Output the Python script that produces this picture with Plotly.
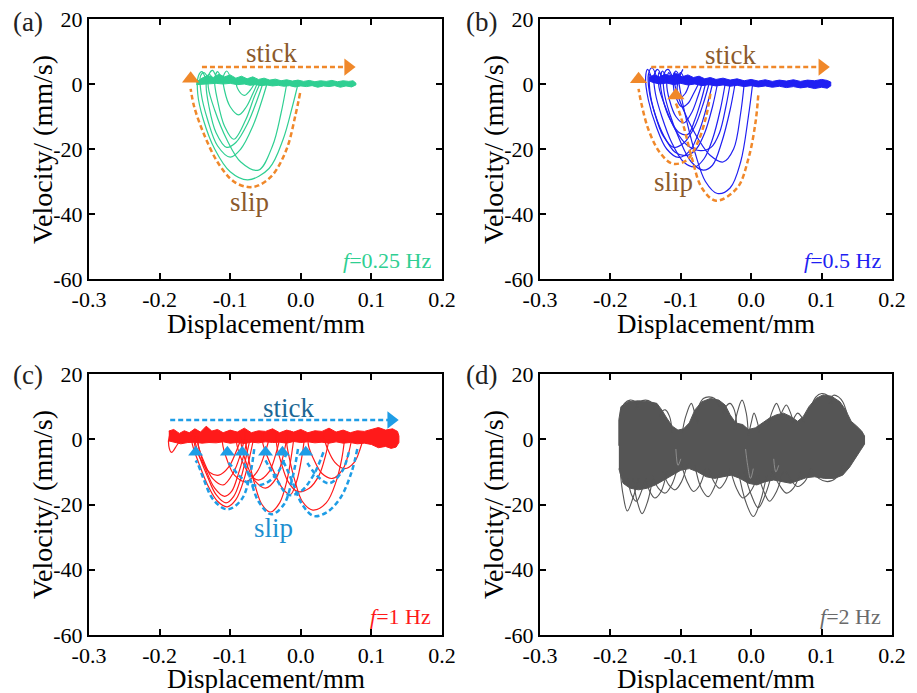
import plotly.graph_objects as go

FONT = "Liberation Serif, Times New Roman, serif"

# ---------------- axis ticks ----------------
x_ticks = [-0.3, -0.2, -0.1, 0.0, 0.1, 0.2]
x_tick_text = ["-0.3", "-0.2", "-0.1", "0.0", "0.1", "0.2"]
y_ticks = [-60, -40, -20, 0, 20]
y_tick_text = ["-60", "-40", "-20", "0", "20"]

panel_labels = ["(a)", "(b)", "(c)", "(d)"]
freq_labels = ["<i>f</i>=0.25 Hz", "<i>f</i>=0.5 Hz", "<i>f</i>=1 Hz", "<i>f</i>=2 Hz"]
freq_colors = ["#2fcf92", "#1f1ff2", "#ff1a1a", "#6a6a6a"]

# ---------------- panel (a) f=0.25 Hz ----------------
a1_x = [-0.004, -0.012, -0.025, -0.045, -0.075, -0.100, -0.122, -0.138, -0.146, -0.145, -0.140, -0.134, -0.128]
a1_v = [0, -7, -17, -26, -29.5, -27, -20, -11, -3, 2.5, 3.8, 1.5, 0.5]
a2_x = [-0.020, -0.028, -0.040, -0.060, -0.085, -0.105, -0.122, -0.131, -0.130, -0.125, -0.119, -0.112]
a2_v = [0, -9, -19, -26.5, -24, -17, -8, -1, 3, 4.2, 2, 0.8]
a3_x = [-0.048, -0.055, -0.068, -0.085, -0.100, -0.118, -0.132, -0.141, -0.142, -0.137, -0.130]
a3_v = [0, -5, -13, -20, -22.5, -19, -11, -3, 2.5, 3.5, 1]
a4_x = [-0.054, -0.062, -0.075, -0.092, -0.105, -0.120, -0.130, -0.134, -0.130, -0.124]
a4_v = [0, -5, -12, -18, -19.5, -15, -7, 0, 3, 1.5]
a5_x = [-0.058, -0.066, -0.078, -0.095, -0.108, -0.118, -0.122, -0.118, -0.112]
a5_v = [0, -4, -11, -17, -13, -5, 1, 3.8, 1.5]
a6_x = [-0.062, -0.068, -0.077, -0.088, -0.100, -0.108, -0.110, -0.105, -0.098]
a6_v = [0, -3, -7, -9.5, -7, -2, 2, 4, 1]
a7_x = [-0.066, -0.072, -0.080, -0.088, -0.091, -0.087, -0.080]
a7_v = [0, -2, -3.5, -2, 0.5, 1.5, 0.5]
band_a_top_x = [-0.148, -0.140, -0.132, -0.124, -0.116, -0.108, -0.100, -0.092, -0.084, -0.076, -0.068,
                -0.060, -0.052, -0.044, -0.036, -0.028, -0.020, -0.012, -0.004, 0.004, 0.012, 0.020, 0.028,
                0.036, 0.044, 0.052, 0.060, 0.068, 0.074, 0.078]
band_a_top_v = [0.6, 1.8, 2.6, 2.0, 3.0, 2.2, 2.8, 1.8, 2.4, 1.6, 2.2, 1.4, 1.8, 1.2, 1.5, 1.0, 1.3, 0.9, 1.2,
                0.8, 1.1, 0.7, 1.0, 0.8, 1.1, 0.7, 1.0, 0.8, 1.0, 0.3]
band_a_bot_x = [0.078, 0.072, 0.064, 0.056, 0.048, 0.040, 0.032, 0.024, 0.016, 0.008, 0.000, -0.008, -0.016,
                -0.024, -0.032, -0.040, -0.048, -0.056, -0.064, -0.072, -0.080, -0.090, -0.100, -0.110, -0.120,
                -0.130, -0.140, -0.148]
band_a_bot_v = [-0.3, -0.9, -0.6, -1.0, -0.5, -0.8, -0.6, -1.0, -0.5, -0.8, -0.6, -0.9, -0.5, -0.7, -0.4,
                -0.6, -0.3, -0.5, -0.2, -0.4, 0.0, -0.2, 0.2, 0.0, 0.2, 0.0, -0.2, -0.2]
slip_a_x = [-0.001, -0.008, -0.020, -0.040, -0.060, -0.075, -0.095, -0.118, -0.138, -0.151, -0.156]
slip_a_v = [-2.8, -10, -20, -28, -31.2, -31.7, -30, -24, -15, -7, -1.5]

# ---------------- panel (b) f=0.5 Hz ----------------
b1_x = [0.002, -0.004, -0.015, -0.030, -0.048, -0.065, -0.080, -0.092, -0.100, -0.103, -0.100, -0.094]
b1_v = [0, -10, -24, -32, -33.7, -30, -21, -11, -3, 2, 3.5, 1]
b2_x = [-0.010, -0.015, -0.025, -0.040, -0.058, -0.075, -0.092, -0.105, -0.110, -0.107, -0.100]
b2_v = [0, -9, -20, -24, -22, -17, -10, -3, 2, 4, 1.5]
b3_x = [-0.023, -0.030, -0.042, -0.055, -0.068, -0.085, -0.102, -0.116, -0.124, -0.124, -0.118, -0.111]
b3_v = [0, -8, -18, -25, -26.5, -24, -17, -9, -2, 3, 4.5, 1.5]
b4_x = [-0.037, -0.044, -0.055, -0.067, -0.080, -0.096, -0.113, -0.127, -0.136, -0.138, -0.133, -0.126]
b4_v = [0, -8, -17, -23, -25.5, -24, -18, -10, -3, 2.5, 4.5, 1.5]
b5_x = [-0.048, -0.055, -0.066, -0.078, -0.092, -0.108, -0.124, -0.137, -0.145, -0.146, -0.141, -0.134]
b5_v = [0, -7, -15, -20, -22, -21, -16, -9, -2, 3, 5, 2]
b6_x = [-0.055, -0.062, -0.073, -0.087, -0.103, -0.120, -0.135, -0.146, -0.150, -0.147, -0.141]
b6_v = [0, -6, -14, -20.5, -22.6, -20, -13, -5, 2, 4.5, 1.5]
b7_x = [-0.060, -0.068, -0.080, -0.095, -0.110, -0.125, -0.137, -0.144, -0.144, -0.139]
b7_v = [0, -6, -13, -18, -19.5, -16, -9, -2, 3, 1]
b8_x = [-0.065, -0.071, -0.080, -0.090, -0.102, -0.115, -0.125, -0.129, -0.126, -0.120]
b8_v = [0, -5, -11, -15.5, -15, -11, -5, 1, 4, 1.5]
b9_x = [-0.070, -0.076, -0.085, -0.096, -0.107, -0.116, -0.120, -0.117, -0.112]
b9_v = [0, -4, -9, -12, -10, -5, 0, 3.5, 1]
b10_x = [-0.075, -0.082, -0.090, -0.099, -0.107, -0.111, -0.109, -0.104]
b10_v = [0, -3, -6, -7, -4, 0.5, 3.5, 1]
b11_x = [-0.088, -0.094, -0.100, -0.105, -0.103, -0.097]
b11_v = [0, -3, -4, -2, 1.5, 4.5]
b12_x = [-0.030, -0.036, -0.045, -0.057, -0.072, -0.090, -0.108, -0.122, -0.131, -0.131, -0.126]
b12_v = [0, -7, -15, -19.5, -20.5, -19, -14, -7, -1, 3.5, 1.5]
band_b_top_x = [-0.145, -0.138, -0.130, -0.122, -0.114, -0.106, -0.098, -0.090, -0.082, -0.074, -0.066, -0.058,
                -0.050, -0.040, -0.030, -0.020, -0.010, 0.000, 0.010, 0.020, 0.030, 0.040, 0.050, 0.060, 0.070,
                0.080, 0.090, 0.100, 0.108, 0.113]
band_b_top_v = [2.0, 2.8, 2.2, 3.0, 2.4, 3.2, 2.2, 2.8, 2.0, 2.4, 1.6, 2.0, 1.4, 1.8, 1.2, 1.6, 1.0, 1.4, 0.9,
                1.3, 0.8, 1.2, 0.9, 1.3, 0.8, 1.2, 1.0, 1.4, 1.1, 0.6]
band_b_bot_x = [0.113, 0.108, 0.100, 0.090, 0.080, 0.070, 0.060, 0.050, 0.040, 0.030, 0.020, 0.010, 0.000,
                -0.010, -0.020, -0.030, -0.040, -0.050, -0.060, -0.070, -0.080, -0.090, -0.100, -0.110, -0.120,
                -0.130, -0.140, -0.145]
band_b_bot_v = [-0.6, -1.3, -1.0, -1.4, -0.9, -1.2, -0.8, -1.1, -0.7, -1.0, -0.6, -0.9, -0.5, -0.8, -0.4, -0.7,
                -0.3, -0.6, -0.2, -0.5, 0.0, -0.3, 0.2, -0.2, 0.3, 0.0, 0.5, 1.0]
slip_b1_x = [-0.058, -0.064, -0.076, -0.092, -0.112, -0.130, -0.146, -0.156, -0.160]
slip_b1_v = [-3, -10, -18, -23.5, -24.5, -21, -14, -6, -1.5]
slip_b2_x = [0.010, 0.006, -0.004, -0.020, -0.050, -0.070, -0.084, -0.096, -0.104, -0.107]
slip_b2_v = [-3.5, -12, -23, -32, -35.9, -32, -23, -13, -7.5, -6]

# ---------------- panel (c) f=1 Hz ----------------
c1_x = [-0.067, -0.072, -0.080, -0.092, -0.104, -0.118, -0.132, -0.145, -0.153, -0.155, -0.150]
c1_v = [0, -5, -12, -18.5, -20.7, -19, -14, -7, -2, 1, 2]
c2_x = [-0.072, -0.077, -0.085, -0.095, -0.106, -0.120, -0.133, -0.144, -0.150, -0.148]
c2_v = [0, -5, -12, -17.5, -19.5, -17, -11, -5, 0, 2]
c3_x = [-0.076, -0.081, -0.089, -0.098, -0.108, -0.122, -0.135, -0.144, -0.148]
c3_v = [0, -5, -11, -16, -17.5, -15, -9, -3, 1]
c4_x = [-0.080, -0.086, -0.095, -0.110, -0.125, -0.137, -0.145, -0.146]
c4_v = [0, -5, -10, -14, -12, -7, -2, 1]
c5_x = [-0.085, -0.092, -0.102, -0.116, -0.130, -0.142, -0.150, -0.152]
c5_v = [0, -4, -8.5, -11, -10, -6, -2, 1]
c6_x = [-0.170, -0.176, -0.183, -0.187, -0.186, -0.181]
c6_v = [0, -2, -4, -2, 1, 2.5]
c7_x = [-0.010, -0.014, -0.020, -0.030, -0.043, -0.055, -0.065, -0.073, -0.078, -0.079, -0.076]
c7_v = [0, -6, -13, -19.5, -22.3, -20, -14, -7, -1, 2, 2.5]
c8_x = [-0.020, -0.026, -0.035, -0.050, -0.064, -0.076, -0.084, -0.086]
c8_v = [0, -6, -12, -15, -13, -8, -2, 1.5]
c9_x = [0.005, 0.001, -0.006, -0.015, -0.026, -0.038, -0.048, -0.054, -0.054]
c9_v = [0, -6, -13, -17, -15, -10, -5, -1, 2]
c10_x = [-0.030, -0.036, -0.045, -0.060, -0.075, -0.086, -0.091, -0.090]
c10_v = [0, -5, -10, -12.5, -10, -5, -1, 2]
c11_x = [0.062, 0.058, 0.050, 0.036, 0.017, 0.002, -0.008, -0.016, -0.020, -0.019, -0.014]
c11_v = [0, -6, -13, -19.5, -21.7, -19, -13, -6, -1, 2, 2.5]
c12_x = [0.072, 0.068, 0.060, 0.045, 0.030, 0.018, 0.011, 0.010]
c12_v = [0, -4, -9, -12, -10.5, -6, -2, 1.5]
c13_x = [0.040, 0.035, 0.026, 0.012, -0.005, -0.018, -0.028, -0.034, -0.035]
c13_v = [0, -5, -11, -15, -16, -13, -7, -2, 2]
c14_x = [0.088, 0.084, 0.076, 0.062, 0.048, 0.038, 0.032]
c14_v = [0, -3, -7, -9, -7, -3, 1]
c15_x = [-0.045, -0.052, -0.062, -0.078, -0.094, -0.105, -0.111, -0.110]
c15_v = [0, -5, -10, -13, -11, -6, -1, 2]
band_c_top_x = [-0.187, -0.180, -0.172, -0.165, -0.158, -0.150, -0.142, -0.134, -0.126, -0.118, -0.110,
                -0.100, -0.090, -0.080, -0.070, -0.060, -0.050, -0.040, -0.030, -0.020, -0.010, 0.000, 0.010,
                0.020, 0.030, 0.040, 0.050, 0.060, 0.070, 0.080, 0.090, 0.100, 0.110, 0.120, 0.130, 0.137, 0.139]
band_c_top_v = [2.5, 3.0, 1.8, 2.6, 2.0, 3.2, 2.2, 4.0, 2.5, 3.0, 2.0, 2.8, 2.2, 3.4, 2.0, 2.6, 2.4, 3.2, 2.0,
                2.8, 2.2, 3.0, 2.0, 2.6, 2.4, 3.4, 2.2, 2.8, 2.0, 2.6, 2.4, 3.0, 3.6, 2.8, 3.2, 2.4, 1.0]
band_c_bot_x = [0.139, 0.135, 0.128, 0.120, 0.110, 0.100, 0.090, 0.080, 0.070, 0.060, 0.050, 0.040, 0.030,
                0.020, 0.010, 0.000, -0.010, -0.020, -0.030, -0.040, -0.050, -0.060, -0.070, -0.080, -0.090,
                -0.100, -0.110, -0.120, -0.130, -0.140, -0.150, -0.160, -0.170, -0.180, -0.187]
band_c_bot_v = [-1.0, -2.4, -2.8, -2.2, -2.6, -1.6, -1.2, -1.4, -1.0, -1.2, -0.8, -1.2, -0.9, -1.1, -0.8, -1.0,
                -0.7, -1.2, -0.9, -1.0, -0.8, -1.1, -0.9, -1.3, -1.0, -1.2, -0.8, -1.1, -1.0, -1.2, -0.9, -1.0,
                -1.4, -1.0, -0.5]
slip_c1_x = [-0.066, -0.072, -0.084, -0.104, -0.124, -0.138, -0.146, -0.149]
slip_c1_v = [-3, -11, -18.5, -21.5, -18.5, -12, -7.5, -6.5]
slip_c2_x = [-0.004, -0.012, -0.024, -0.042, -0.060, -0.072, -0.080, -0.083]
slip_c2_v = [-3, -12, -20, -23, -19, -12, -7.5, -6.5]
slip_c3_x = [0.080, 0.072, 0.056, 0.036, 0.018, 0.002, -0.012, -0.022, -0.026]
slip_c3_v = [-3, -10, -18, -22.5, -23.5, -20, -13, -8, -6.5]
slip_c4_x = [-0.020, -0.032, -0.050, -0.070, -0.088, -0.099, -0.103, -0.104]
slip_c4_v = [-4, -10, -13.5, -14, -11, -8, -7, -6.5]
slip_c5_x = [0.068, 0.058, 0.040, 0.022, 0.010, 0.007]
slip_c5_v = [-4, -10, -13.5, -11, -7.5, -6.5]
slip_c6_x = [0.032, 0.018, 0.000, -0.018, -0.035, -0.046, -0.050]
slip_c6_v = [-4, -11, -16, -17, -12, -8, -6.5]
arrow_c_x = [-0.149, -0.104, -0.083, -0.050, -0.026, 0.007]
arrow_c_v = [-4, -4, -4, -4, -4, -4]

# ---------------- panel (d) f=2 Hz ----------------
env_d_top_x = [-0.188, -0.188, -0.185, -0.175, -0.160, -0.145, -0.134, -0.127, -0.120, -0.112, -0.104, -0.096,
               -0.088, -0.080, -0.070, -0.058, -0.046, -0.037, -0.030, -0.022, -0.012, -0.004, 0.006, 0.016,
               0.026, 0.036, 0.046, 0.056, 0.066, 0.074, 0.082, 0.092, 0.102, 0.114, 0.126, 0.134, 0.142, 0.150,
               0.157, 0.161]
env_d_top_v = [-2, 6, 10, 11.5, 11.8, 11.5, 11, 9, 6.5, 4, 2.8, 3.2, 5, 9, 11.5, 12.5, 12, 10.5, 7.5, 5, 4.5,
               3, 3.5, 5, 6.5, 7.5, 8, 7, 5.5, 7, 10, 12.5, 13.6, 13.2, 11.5, 9, 5.5, 4, 2.5, 1]
env_d_bot_x = [0.161, 0.155, 0.148, 0.140, 0.130, 0.118, 0.104, 0.090, 0.078, 0.068, 0.056, 0.044, 0.032,
               0.020, 0.008, -0.004, -0.016, -0.028, -0.040, -0.052, -0.064, -0.076, -0.088, -0.100, -0.112,
               -0.124, -0.136, -0.148, -0.160, -0.172, -0.182, -0.188]
env_d_bot_v = [-1.5, -3.5, -6, -8.5, -11, -12, -12, -11.5, -11.8, -12.5, -13.5, -13, -12.5, -13, -14, -13.5,
               -12, -11, -11.5, -12, -11.5, -10, -9, -9.5, -11, -12.5, -14, -15, -15.5, -15, -13.5, -9]
# loops hanging below the dense core
d_low_x = [[-0.186, -0.182, -0.176, -0.168, -0.160], [-0.175, -0.170, -0.163, -0.156, -0.150],
           [-0.168, -0.162, -0.155, -0.147, -0.140], [-0.150, -0.144, -0.137, -0.128, -0.120],
           [-0.140, -0.132, -0.122, -0.113, -0.105], [-0.125, -0.117, -0.108, -0.099, -0.090],
           [-0.100, -0.091, -0.082, -0.073, -0.065], [-0.080, -0.071, -0.061, -0.053, -0.045],
           [-0.060, -0.053, -0.045, -0.037, -0.030], [-0.030, -0.021, -0.012, -0.001, 0.010],
           [-0.018, -0.008, 0.003, 0.013, 0.022], [-0.010, 0.000, 0.010, 0.020, 0.030],
           [0.010, 0.018, 0.026, 0.036, 0.045], [0.030, 0.040, 0.050, 0.060, 0.070],
           [0.050, 0.058, 0.066, 0.076, 0.085], [0.085, 0.096, 0.108, 0.120, 0.130]]
d_low_v = [[-10, -17, -22, -18, -12], [-12, -17, -19, -16, -12], [-12, -19, -22.8, -19, -12],
           [-12, -16, -18, -16, -10], [-11, -15, -16.5, -14, -9], [-10, -14, -15.5, -13, -7],
           [-7, -13, -16, -14, -9], [-8, -15, -17.6, -15, -10], [-9, -13, -15, -13, -9],
           [-9, -15, -18, -16, -11], [-10, -19, -23.7, -19, -11], [-10, -17, -21, -17, -10],
           [-11, -16, -19, -16, -10], [-10, -14, -16.5, -15, -10], [-10, -13, -14.5, -13, -9],
           [-9, -12, -13, -12, -8]]
# bubbles above the dense core
d_up_x = [[-0.098, -0.093, -0.085, -0.079, -0.075], [-0.024, -0.020, -0.013, -0.007, -0.004],
          [-0.004, 0.000, 0.004, 0.009, 0.012], [0.024, 0.029, 0.036, 0.042, 0.046],
          [0.040, 0.045, 0.050, 0.056, 0.060], [0.058, 0.062, 0.066, 0.071, 0.075],
          [-0.130, -0.127, -0.122, -0.116, -0.112], [-0.040, -0.036, -0.030, -0.024, -0.020],
          [-0.186, -0.180, -0.172, -0.165, -0.160], [-0.165, -0.158, -0.150, -0.143, -0.137],
          [0.085, 0.092, 0.100, 0.108, 0.115], [0.110, 0.117, 0.124, 0.130, 0.136],
          [-0.075, -0.068, -0.060, -0.052, -0.045]]
d_up_v = [[2, 7, 11, 7, 5], [3, 8, 12, 8, 1], [1, 5, 8, 5, 2], [4, 8, 11, 8, 6],
          [6, 9, 10.5, 8, 5], [5, 7, 8, 7, 5], [7, 8.5, 9, 7, 2], [8, 10, 11, 9, 3],
          [8, 11, 12, 11.5, 9], [9, 11.5, 12, 11.5, 9], [10, 13, 14, 13.5, 11],
          [11, 13.5, 13, 11.5, 8], [10, 12.5, 13, 12.5, 10]]
# thin light gaps seen inside the dense core
d_gap_x = [[-0.008, -0.005, -0.001, 0.003], [-0.107, -0.104, -0.100], [0.032, 0.035, 0.039]]
d_gap_v = [[-3, -8, -12, -9], [-3, -8, -6], [-6, -10, -8]]

# ---------------- colours ----------------
GREEN = "#2fcf92"
BLUE = "#1f1ff2"
RED = "#ff1a1a"
GRAY = "#555555"
ORANGE = "#f0882a"
SKY = "#1e9de6"
BROWN = "#8b5a2b"

fig = go.Figure()


def add_line(ax, x, v, color, width=1.2, dash=None, shape="spline", fill=None):
    fig.add_trace(go.Scatter(
        x=x, y=v, mode="lines", xaxis="x" + ax, yaxis="y" + ax,
        line=dict(color=color, width=width, dash=dash, shape=shape, smoothing=1.0),
        fill=fill, fillcolor=color if fill else None,
        hoverinfo="skip", showlegend=False))


def add_marker(ax, x, v, color, symbol, size):
    fig.add_trace(go.Scatter(
        x=x, y=v, mode="markers", xaxis="x" + ax, yaxis="y" + ax,
        marker=dict(color=color, symbol=symbol, size=size, line=dict(width=0)),
        hoverinfo="skip", showlegend=False))


# panel a
add_line("", band_a_top_x + band_a_bot_x, band_a_top_v + band_a_bot_v, GREEN, 1.0, shape="linear", fill="toself")
for lx, lv in [(a1_x, a1_v), (a2_x, a2_v), (a3_x, a3_v), (a4_x, a4_v), (a5_x, a5_v), (a6_x, a6_v), (a7_x, a7_v)]:
    add_line("", lx, lv, GREEN)
add_line("", slip_a_x, slip_a_v, ORANGE, 2.5, dash="5px,3px")
add_line("", [-0.140, 0.064], [5.2, 5.2], ORANGE, 2.5, dash="5px,3px", shape="linear")
add_marker("", [0.067], [5.2], ORANGE, "triangle-right", 15)
add_marker("", [-0.156], [1.6], ORANGE, "triangle-up", 15)

# panel b
add_line("2", band_b_top_x + band_b_bot_x, band_b_top_v + band_b_bot_v, BLUE, 1.0, shape="linear", fill="toself")
for lx, lv in [(b1_x, b1_v), (b2_x, b2_v), (b3_x, b3_v), (b4_x, b4_v), (b5_x, b5_v), (b6_x, b6_v),
               (b7_x, b7_v), (b8_x, b8_v), (b9_x, b9_v), (b10_x, b10_v), (b11_x, b11_v), (b12_x, b12_v)]:
    add_line("2", lx, lv, BLUE)
add_line("2", slip_b1_x, slip_b1_v, ORANGE, 2.5, dash="5px,3px")
add_line("2", slip_b2_x, slip_b2_v, ORANGE, 2.5, dash="5px,3px")
add_line("2", [-0.142, 0.098], [5.2, 5.2], ORANGE, 2.5, dash="5px,3px", shape="linear")
add_marker("2", [0.101], [5.2], ORANGE, "triangle-right", 15)
add_marker("2", [-0.160, -0.107], [1.5, -3.5], ORANGE, "triangle-up", 15)

# panel c
add_line("3", band_c_top_x + band_c_bot_x, band_c_top_v + band_c_bot_v, RED, 1.0, shape="linear", fill="toself")
for lx, lv in [(c1_x, c1_v), (c2_x, c2_v), (c3_x, c3_v), (c4_x, c4_v), (c5_x, c5_v), (c6_x, c6_v),
               (c7_x, c7_v), (c8_x, c8_v), (c9_x, c9_v), (c10_x, c10_v), (c11_x, c11_v), (c12_x, c12_v),
               (c13_x, c13_v), (c14_x, c14_v), (c15_x, c15_v)]:
    add_line("3", lx, lv, RED)
for lx, lv in [(slip_c1_x, slip_c1_v), (slip_c2_x, slip_c2_v), (slip_c3_x, slip_c3_v),
               (slip_c4_x, slip_c4_v), (slip_c5_x, slip_c5_v), (slip_c6_x, slip_c6_v)]:
    add_line("3", lx, lv, SKY, 2.5, dash="5px,3px")
add_line("3", [-0.185, 0.124], [5.9, 5.9], SKY, 2.5, dash="5px,3px", shape="linear")
add_marker("3", [0.128], [5.9], SKY, "triangle-right", 15)
add_marker("3", arrow_c_x, arrow_c_v, SKY, "triangle-up", 13)

# panel d
add_line("4", env_d_top_x + env_d_bot_x, env_d_top_v + env_d_bot_v, GRAY, 1.0, shape="linear", fill="toself")
for lx, lv in zip(d_low_x + d_up_x, d_low_v + d_up_v):
    add_line("4", lx, lv, GRAY, 1.1)
for lx, lv in zip(d_gap_x, d_gap_v):
    add_line("4", lx, lv, "#9a9a9a", 0.8)

# ---------------- layout ----------------
# the page body has an 8px margin, so the figure is drawn 8px smaller and all positions shifted by 8px
OFF = 8
W, H = 917 - OFF, 693 - OFF


def px_x(p):
    return (p - OFF) / W


def px_y(p):
    return 1 - (p - OFF) / H


xdom_l = [px_x(89), px_x(442)]
xdom_r = [px_x(540), px_x(892)]
ydom_t = [px_y(279), px_y(19)]
ydom_b = [px_y(635), px_y(374)]


def xaxis(domain, anchor):
    return dict(domain=domain, anchor=anchor, range=[-0.3, 0.2], tickvals=x_ticks, ticktext=x_tick_text,
                ticks="inside", ticklen=6, tickwidth=2, tickcolor="black", showline=True, linewidth=2,
                linecolor="black", mirror="ticks", showgrid=False, zeroline=False, automargin=False,
                ticklabeloverflow="allow",
                tickfont=dict(family=FONT, size=22, color="black"))


def yaxis(domain, anchor):
    return dict(domain=domain, anchor=anchor, range=[-60, 20], tickvals=y_ticks, ticktext=y_tick_text,
                ticks="inside", ticklen=6, tickwidth=2, tickcolor="black", showline=True, linewidth=2,
                linecolor="black", mirror="ticks", showgrid=False, zeroline=False, automargin=False,
                ticklabeloverflow="allow",
                tickfont=dict(family=FONT, size=22, color="black"))


annotations = []
panel_pos = [(28, 22), (481, 22), (28, 375), (481, 375)]
for lab, (px, py) in zip(panel_labels, panel_pos):
    annotations.append(dict(text=lab, x=px_x(px), y=px_y(py), xref="paper", yref="paper", showarrow=False,
                            xanchor="center", yanchor="middle", font=dict(family=FONT, size=27, color="#222")))

xtitle_pos = [(265.5, 324), (716, 324), (265.5, 679), (716, 679)]
for px, py in xtitle_pos:
    annotations.append(dict(text="Displacement/mm", x=px_x(px), y=px_y(py), xref="paper", yref="paper",
                            showarrow=False, xanchor="center", yanchor="middle",
                            font=dict(family=FONT, size=27, color="black")))
ytitle_pos = [(42, 150), (493, 150), (42, 505), (493, 505)]
for px, py in ytitle_pos:
    annotations.append(dict(text="Velocity/ (mm/s)", x=px_x(px), y=px_y(py), xref="paper", yref="paper",
                            showarrow=False, textangle=-90, xanchor="center", yanchor="middle",
                            font=dict(family=FONT, size=28, color="black")))

for i, (lab, col) in enumerate(zip(freq_labels, freq_colors)):
    ax = "" if i == 0 else str(i + 1)
    annotations.append(dict(text=lab, x=0.187, y=-54.3, xref="x" + ax, yref="y" + ax, showarrow=False,
                            xanchor="right", yanchor="middle", font=dict(family=FONT, size=22, color=col)))

word_specs = [("", "stick", -0.041, 9.5, BROWN), ("", "slip", -0.073, -36.3, BROWN),
              ("2", "stick", -0.029, 8.9, BROWN), ("2", "slip", -0.111, -30.3, BROWN),
              ("3", "stick", -0.017, 9.6, "#1d6794"), ("3", "slip", -0.039, -27.2, "#1e8fd0")]
for ax, txt, x, v, col in word_specs:
    annotations.append(dict(text=txt, x=x, y=v, xref="x" + ax, yref="y" + ax, showarrow=False,
                            xanchor="center", yanchor="middle", font=dict(family=FONT, size=27, color=col)))

fig.update_layout(
    width=W, height=H, autosize=False,
    margin=dict(l=0, r=0, t=0, b=0, pad=0, autoexpand=False),
    paper_bgcolor="white", plot_bgcolor="white", showlegend=False,
    xaxis=xaxis(xdom_l, "y"), yaxis=yaxis(ydom_t, "x"),
    xaxis2=xaxis(xdom_r, "y2"), yaxis2=yaxis(ydom_t, "x2"),
    xaxis3=xaxis(xdom_l, "y3"), yaxis3=yaxis(ydom_b, "x3"),
    xaxis4=xaxis(xdom_r, "y4"), yaxis4=yaxis(ydom_b, "x4"),
    annotations=annotations,
)

fig.write_html("out.html", config={"responsive": False})
